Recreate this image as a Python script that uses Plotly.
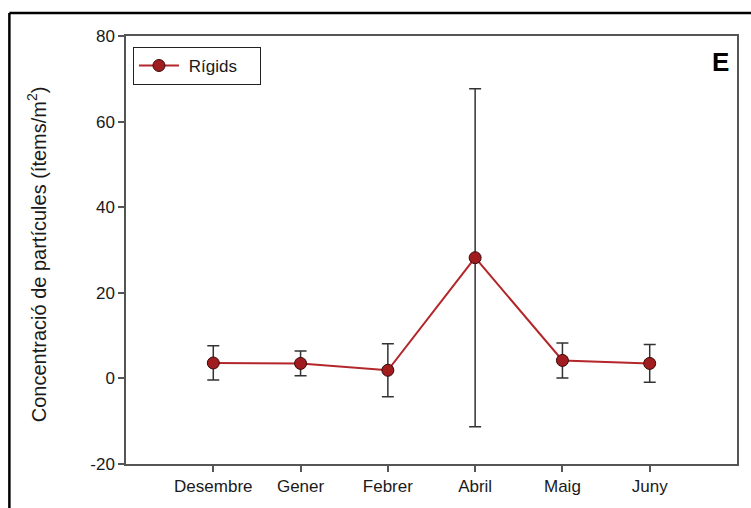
import plotly.graph_objects as go

# Monthly particle concentration (mean ± error)
months = ["Desembre", "Gener", "Febrer", "Abril", "Maig", "Juny"]
rigids_mean = [3.6, 3.5, 1.9, 28.2, 4.2, 3.5]
rigids_err = [4.0, 2.9, 6.2, 39.5, 4.1, 4.4]
y_ticks = [-20, 0, 20, 40, 60, 80]
y_ticktext = ["-20", "0", "20", "40", "60", "80"]

W, H = 751, 508
ml, mr, mt, mb = 126, 12, 36, 42
pw, ph = W - ml - mr, H - mt - mb
FONT = "Liberation Sans, Arial, sans-serif"

fig = go.Figure()
fig.add_trace(go.Scatter(
    x=months, y=rigids_mean, name="&nbsp;Rígids", mode="lines+markers",
    line=dict(color="#b3262a", width=2),
    marker=dict(size=12, color="#a01c1f", line=dict(color="#3a0a0a", width=1)),
    error_y=dict(type="data", array=rigids_err, visible=True,
                 color="#333333", thickness=1.5, width=6),
))

axis_font = dict(family=FONT, size=17, color="#1a1a1a")

fig.update_layout(
    width=W, height=H,
    margin=dict(l=ml, r=mr, t=mt, b=mb),
    paper_bgcolor="white", plot_bgcolor="white",
    showlegend=True,
    legend=dict(orientation="h", x=(133 - ml) / pw, y=1 - (47 - mt) / ph,
                xanchor="left", yanchor="top",
                bordercolor="#222222", borderwidth=1, bgcolor="white",
                font=dict(family=FONT, size=17, color="#1a1a1a"),
                itemwidth=40, entrywidth=71, entrywidthmode="pixels"),
    xaxis=dict(type="category", range=[-1, 6], showgrid=False, zeroline=False,
               showline=True, linecolor="#555555", linewidth=1.5, mirror=True,
               ticks="outside", ticklen=6, tickwidth=1.5, tickcolor="#555555",
               tickfont=axis_font),
    yaxis=dict(range=[-20, 80], tickvals=y_ticks, ticktext=y_ticktext,
               showgrid=False, zeroline=False,
               showline=True, linecolor="#555555", linewidth=1.5, mirror=True,
               ticks="outside", ticklen=6, tickwidth=1.5, tickcolor="#555555",
               tickfont=axis_font),
)

# Y-axis title placed as a rotated annotation
fig.add_annotation(xref="paper", yref="paper", x=(37 - ml) / pw, y=1 - (255 - mt) / ph,
                   xanchor="center", yanchor="middle", textangle=-90, showarrow=False,
                   text="Concentració de partícules (ítems/m<sup>2</sup>)",
                   font=dict(family=FONT, size=20, color="#1a1a1a"))

# Panel letter
fig.add_annotation(xref="paper", yref="paper", x=1 - (739 - 733) / pw, y=1 - (45 - mt) / ph,
                   xanchor="right", yanchor="top", text="<b>E</b>", showarrow=False,
                   font=dict(family=FONT, size=26, color="black"))

# Outer panel frame: top and left edges (the rest lies outside the view)
frame_x0, frame_y1 = (9 - ml) / pw, 1 + (mt - 13) / ph
fig.add_shape(type="line", xref="paper", yref="paper",
              x0=frame_x0, x1=(W + 20 - ml) / pw, y0=frame_y1, y1=frame_y1,
              line=dict(color="black", width=2.5), layer="below")
fig.add_shape(type="line", xref="paper", yref="paper",
              x0=frame_x0, x1=frame_x0, y0=frame_y1, y1=-(H + 20 - (H - mb)) / ph,
              line=dict(color="black", width=2.5), layer="below")

fig.write_html("out.html")
